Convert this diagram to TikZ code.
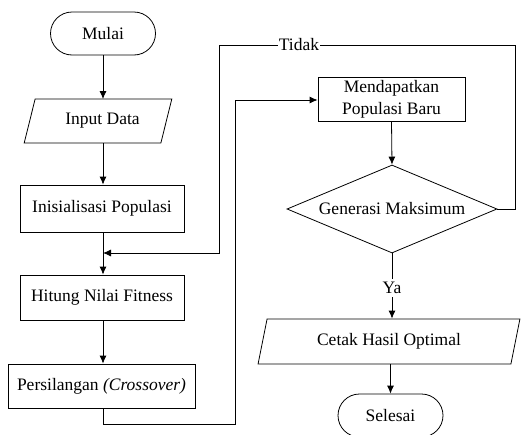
\documentclass[tikz,border=0pt]{standalone}
\usepackage{fontspec}
\setmainfont{Liberation Serif}
\usetikzlibrary{shapes.geometric,shapes.misc,arrows.meta}
\begin{document}
\begin{tikzpicture}[x=1pt,y=-1pt,
    every node/.style={font=\fontsize{17.5}{22}\selectfont},
    terminal/.style={draw,rounded rectangle,minimum width=105pt,minimum height=43pt,inner sep=0pt},
    proses/.style={draw,rectangle,minimum height=45pt,inner sep=0pt,align=center},
    io/.style={draw,trapezium,trapezium stretches=true,inner sep=0pt,minimum height=44pt},
    keputusan/.style={draw,diamond,aspect=2.4,inner sep=0pt,minimum width=210pt,minimum height=88pt},
    garis/.style={line width=0.8pt},
    panah/.style={garis,-{Latex[length=8pt,width=7pt]}}]
    \clip (0,0) rectangle (521,434);
    % kolom kiri
    \node[terminal,line width=0.8pt] (mulai) at (103,33.5) {Mulai};
    \node[io,line width=0.8pt,trapezium left angle=64.5,trapezium right angle=115.5,minimum width=148pt] (input) at (98,121) {\hspace*{9pt}Input Data};
    \node[proses,line width=0.8pt,minimum width=164pt,minimum height=47pt] (inisial) at (102,208.5) {Inisialisasi Populasi};
    \node[proses,line width=0.8pt,minimum width=164pt] (hitung) at (102,297.5) {Hitung Nilai Fitness};
    \node[proses,line width=0.8pt,minimum width=187pt,minimum height=44pt] (silang) at (101.5,386) {Persilangan \textit{(Crossover)}};
    % kolom kanan
    \node[proses,line width=0.8pt,minimum width=147pt,minimum height=44pt] (baru) at (391.5,99) {Mendapatkan\\Populasi Baru};
    \node[keputusan,line width=0.8pt] (maks) at (392,209) {Generasi Maksimum};
    \node[io,line width=0.8pt,trapezium left angle=71.5,trapezium right angle=108.5,minimum width=262pt,minimum height=45pt] (cetak) at (389,341.5) {Cetak Hasil Optimal};
    \node[terminal,line width=0.8pt] (selesai) at (390.5,415.5) {Selesai};
    % titik bantu
    \coordinate (gabung) at (103,253);
    \coordinate (kiri) at (219,253);
    \coordinate (atas) at (515,45);
    % alur
    \draw[panah] (mulai.south) -- (103,99);
    \draw[panah] (103,143) -- (inisial.north -| 103,0);
    \draw[panah] (inisial.south -| 103,0) -- (hitung.north -| 103,0);
    \draw[panah] (hitung.south -| 103,0) -- (silang.north -| 103,0);
    \draw[panah] (silang.south -| 103,0) -- (103,424) -- (235,424) -- (235,100) -- (baru.west |- 0,100);
    \draw[panah] (baru.south) -- (maks.north);
    \draw[panah] (maks.east) -- (maks.east -| atas) -- (atas) -- (atas -| kiri)
        node[pos=0.73,fill=white,inner sep=1pt] {Tidak} -- (kiri) -- (gabung);
    \draw[panah] (maks.south) -- node[fill=white,inner ysep=3pt,inner xsep=1pt,pos=0.53] {Ya} (cetak.north -| maks.south);
    \draw[panah] (cetak.south -| selesai.north) -- (selesai.north);
\end{tikzpicture}
\end{document}
